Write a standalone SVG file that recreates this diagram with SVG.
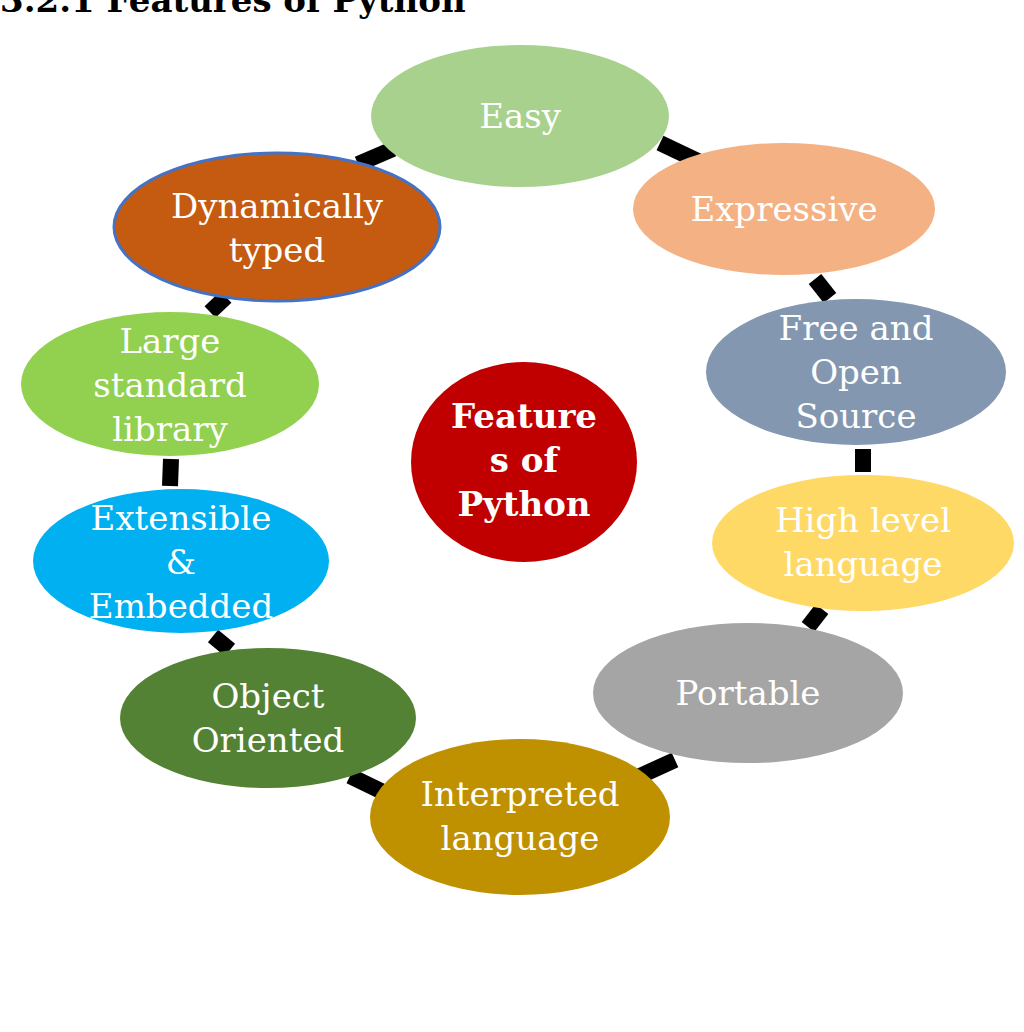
<svg xmlns="http://www.w3.org/2000/svg" width="1024" height="1032" viewBox="0 0 1024 1032">
<style>
.t{font-family:"DejaVu Serif","Liberation Serif",serif;font-size:34px;fill:#fff;text-anchor:middle}
.c{stroke:#000;stroke-width:16;fill:none}
</style>
<rect width="1024" height="1032" fill="#fff"/>
<text x="0" y="12" style="font-family:'DejaVu Serif',serif;font-weight:bold;font-size:34px" fill="#000">3.2.1 Features of Python</text>
<g id="connectors">
<line class="c" x1="660" y1="143" x2="702" y2="163"/>
<line class="c" x1="815" y1="279" x2="830" y2="298"/>
<line class="c" x1="863" y1="449" x2="863" y2="472"/>
<line class="c" x1="822" y1="609" x2="808" y2="627"/>
<line class="c" x1="675" y1="760" x2="640" y2="776"/>
<line class="c" x1="383" y1="792" x2="350" y2="776"/>
<line class="c" x1="213" y1="636" x2="230" y2="650"/>
<line class="c" x1="171" y1="459" x2="170" y2="486"/>
<line class="c" x1="210" y1="312" x2="226" y2="297"/>
<line class="c" x1="358" y1="164" x2="393" y2="149"/>
</g>
<g id="center"><ellipse cx="524" cy="462" rx="113" ry="100" fill="#C00000"/><text class="t" font-weight="bold" x="524" y="428">Feature</text><text class="t" font-weight="bold" x="524" y="472">s of</text><text class="t" font-weight="bold" x="524" y="516">Python</text></g>
<g id="easy"><ellipse cx="520" cy="116" rx="149" ry="71" fill="#A9D18E"/><text class="t" x="520" y="128">Easy</text></g>
<g id="expressive"><ellipse cx="784" cy="209" rx="151" ry="66" fill="#F4B183"/><text class="t" x="784" y="221">Expressive</text></g>
<g id="free"><ellipse cx="856" cy="372" rx="150" ry="73" fill="#8497B0"/><text class="t" x="856" y="340">Free and</text><text class="t" x="856" y="384">Open</text><text class="t" x="856" y="428">Source</text></g>
<g id="high"><ellipse cx="863" cy="543" rx="151" ry="68" fill="#FFD966"/><text class="t" x="863" y="532">High level</text><text class="t" x="863" y="576">language</text></g>
<g id="portable"><ellipse cx="748" cy="693" rx="155" ry="70" fill="#A5A5A5"/><text class="t" x="748" y="705">Portable</text></g>
<g id="interpreted"><ellipse cx="520" cy="817" rx="150" ry="78" fill="#BF9000"/><text class="t" x="520" y="806">Interpreted</text><text class="t" x="520" y="850">language</text></g>
<g id="object"><ellipse cx="268" cy="718" rx="148" ry="70" fill="#548235"/><text class="t" x="268" y="708">Object</text><text class="t" x="268" y="752">Oriented</text></g>
<g id="extensible"><ellipse cx="181" cy="561" rx="148" ry="72" fill="#00B0F0"/><text class="t" x="181" y="530">Extensible</text><text class="t" x="181" y="574">&amp;</text><text class="t" x="181" y="618">Embedded</text></g>
<g id="large"><ellipse cx="170" cy="384" rx="149" ry="72" fill="#92D050"/><text class="t" x="170" y="353">Large</text><text class="t" x="170" y="397">standard</text><text class="t" x="170" y="441">library</text></g>
<g id="dynamic"><ellipse cx="277" cy="227" rx="163" ry="74" fill="#C55A11" stroke="#4472C4" stroke-width="3"/><text class="t" x="277" y="218">Dynamically</text><text class="t" x="277" y="262">typed</text></g>
</svg>
